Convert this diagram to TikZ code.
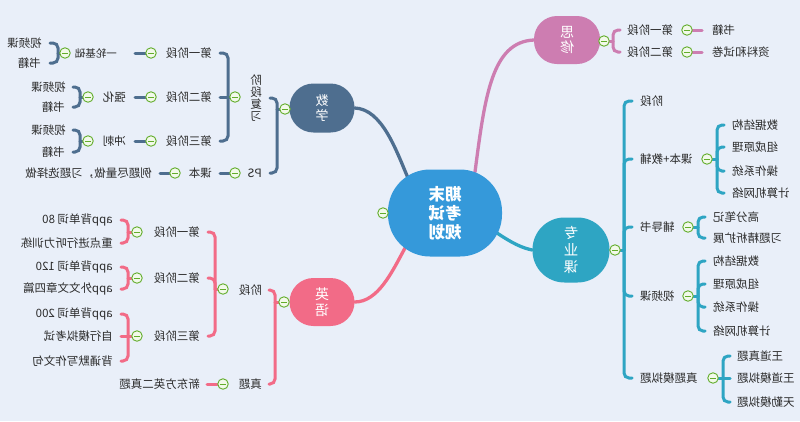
\documentclass[tikz,border=0pt]{standalone}
\usepackage{fontspec}
\usepackage{graphicx}
\setmainfont{Noto Sans CJK SC}
\usetikzlibrary{calc}
\definecolor{bgc}{HTML}{E9EFF9}
\definecolor{cmath}{HTML}{4E6E8F}
\definecolor{csx}{HTML}{CD7DB1}
\definecolor{czy}{HTML}{2EA5C3}
\definecolor{cen}{HTML}{F26B87}
\definecolor{croot}{HTML}{3599DA}
\definecolor{icg}{HTML}{62AD2B}
\definecolor{icf}{HTML}{F2F9EA}
\definecolor{txc}{HTML}{2B2B2B}
\pgfdeclarelayer{bg}
\pgfdeclarelayer{lines}
\pgfsetlayers{bg,lines,main}
\newcommand\mir[1]{\reflectbox{#1}}
\begin{document}
\begin{tikzpicture}[x=1pt,y=-1pt,
  lt/.style={anchor=east, inner sep=0pt, text=txc, font=\fontsize{11.5}{12.5}\selectfont},
  rt/.style={anchor=west, inner sep=0pt, text=txc, font=\fontsize{11.5}{12.5}\selectfont},
  topic/.style={rectangle, rounded corners=#1, text=white, align=center, inner sep=0pt, font=\fontsize{13}{14.5}\selectfont},
  icon/.style={circle, draw=icg, fill=icf, line width=0.9pt, minimum size=10.5pt, inner sep=0pt,
    path picture={\draw[icg, line width=0.9pt] ([xshift=-2.8pt]path picture bounding box.center) -- ([xshift=2.8pt]path picture bounding box.center);}},
  br/.style={line width=3pt, rounded corners=5pt, line cap=round},
  bline/.style={line width=3.3pt, line cap=round}]
\useasboundingbox (0,0) rectangle (800,421);
\begin{pgfonlayer}{bg}
\fill[bgc] (0,0) rectangle (800,421);
\end{pgfonlayer}

% ---------- root ----------
\node[topic=42pt, fill=croot, minimum width=114pt, minimum height=87pt, font=\fontsize{16.5}{19}\selectfont\bfseries] (root) at (445,213) {\mir{期末}\\\mir{考试}\\\mir{规划}};
\node[icon] (ir) at (383,213) {};

% ---------- 数学 ----------
\node[topic=24pt, fill=cmath, minimum width=65pt, minimum height=49pt] (math) at (322,108) {\mir{数}\\\mir{学}};
\node[icon] (im) at (285,109) {};
\coordinate (sm) at (277,109);
\node[lt, align=center, font=\fontsize{11.5}{12}\selectfont] (mfx) at (262,98) {\mir{阶}\\\mir{段}\\\mir{复}\\\mir{习}};
\node[lt] (mps) at (262,173) {\mir{PS}};
\node[icon] (im1) at (235,97) {};
\coordinate (sm1) at (228,97);
\node[lt] (m1) at (212,53) {\mir{第一阶段}};
\node[lt] (m2) at (212,97) {\mir{第二阶段}};
\node[lt] (m3) at (212,141) {\mir{第三阶段}};
\node[icon] (im11) at (151,53) {};
\node[lt, font=\fontsize{10.5}{12}\selectfont] (m11) at (117,53) {\mir{一轮基础}};
\node[icon] (im111) at (65,53) {};
\coordinate (sm111) at (58,53);
\node[lt] (m111) at (42,43) {\mir{视频课}};
\node[lt] (m112) at (41,63) {\mir{书籍}};
\node[icon] (im21) at (151,97) {};
\node[lt] (m21) at (126,97) {\mir{强化}};
\node[icon] (im211) at (88,97) {};
\coordinate (sm211) at (80,97);
\node[lt] (m211) at (66,87) {\mir{视频课}};
\node[lt] (m212) at (65,107) {\mir{书籍}};
\node[icon] (im31) at (151,141) {};
\node[lt] (m31) at (126,141) {\mir{冲刺}};
\node[icon] (im311) at (88,141) {};
\coordinate (sm311) at (80,141);
\node[lt] (m311) at (66,130) {\mir{视频课}};
\node[lt] (m312) at (65,152) {\mir{书籍}};
\node[icon] (imps) at (235,173) {};
\node[lt] (mps1) at (212,173) {\mir{课本}};
\node[icon] (imps1) at (175,173) {};
\node[lt] (mps11) at (152,173) {\mir{例题尽量做，习题选择做}};

% ---------- 英语 ----------
\node[topic=24pt, fill=cen, minimum width=65pt, minimum height=48pt, font=\fontsize{14}{16}\selectfont] (eng) at (322,302) {\mir{英}\\\mir{语}};
\node[icon] (ie) at (284,302) {};
\coordinate (se) at (275,302);
\node[lt] (e1) at (262,290) {\mir{阶段}};
\node[lt] (e2) at (262,384) {\mir{真题}};
\node[icon] (ie1) at (223,289) {};
\coordinate (se1) at (215,289);
\node[lt] (e11) at (200,232) {\mir{第一阶段}};
\node[lt] (e12) at (200,278) {\mir{第二阶段}};
\node[lt] (e13) at (200,336) {\mir{第三阶段}};
\node[icon] (ie11) at (137,232) {};
\coordinate (se11) at (128,232);
\node[lt] (e111) at (113,220) {\mir{app背单词 80}};
\node[lt] (e112) at (113,243) {\mir{重点进行听力训练}};
\node[icon] (ie12) at (137,278) {};
\coordinate (se12) at (128,278);
\node[lt] (e121) at (113,267) {\mir{app背单词 120}};
\node[lt] (e122) at (113,289) {\mir{app外文文章四篇}};
\node[icon] (ie13) at (137,336) {};
\coordinate (se13) at (128,336);
\node[lt] (e131) at (113,314) {\mir{app背单词 200}};
\node[lt] (e132) at (113,336) {\mir{自行模拟考试}};
\node[lt] (e133) at (113,361) {\mir{背诵默写作文句}};
\node[icon] (ie2) at (223,384) {};
\node[lt] (e21) at (200,384) {\mir{新东方英二真题}};

% ---------- 思修 ----------
\node[topic=23pt, fill=csx, minimum width=66pt, minimum height=48pt, font=\fontsize{14}{15.5}\selectfont] (sx) at (567,40) {\mir{思}\\\mir{修}};
\node[icon] (is) at (604,41) {};
\coordinate (ss) at (613,41);
\node[rt] (s1) at (627,30) {\mir{第一阶段}};
\node[rt] (s2) at (627,52) {\mir{第二阶段}};
\node[icon] (is1) at (687,30) {};
\node[rt] (s11) at (712,30) {\mir{书籍}};
\node[icon] (is2) at (687,52) {};
\node[rt] (s21) at (712,52) {\mir{资料和试卷}};

% ---------- 专业课 ----------
\node[topic=32pt, fill=czy, minimum width=77pt, minimum height=65pt, font=\fontsize{14.5}{17}\selectfont] (zy) at (571,250) {\mir{专}\\\mir{业}\\\mir{课}};
\node[icon] (iz) at (615,250) {};
\coordinate (sz) at (624,250);
\node[rt] (z1) at (640,101) {\mir{阶段}};
\node[rt] (z2) at (640,159) {\mir{课本+教辅}};
\node[rt] (z3) at (640,227) {\mir{辅导书}};
\node[rt] (z4) at (640,296) {\mir{视频课}};
\node[rt] (z5) at (640,378) {\mir{真题模拟题}};
\node[icon] (iz2) at (707,159) {};
\coordinate (sz2) at (717,159);
\node[rt] (z21) at (732,125) {\mir{数据结构}};
\node[rt] (z22) at (732,147) {\mir{组成原理}};
\node[rt] (z23) at (732,171) {\mir{操作系统}};
\node[rt] (z24) at (732,193) {\mir{计算机网络}};
\node[icon] (iz3) at (688,227) {};
\coordinate (sz3) at (698,227);
\node[rt] (z31) at (713,217) {\mir{高分笔记}};
\node[rt] (z32) at (713,238) {\mir{习题精析扩展}};
\node[icon] (iz4) at (688,296) {};
\coordinate (sz4) at (698,296);
\node[rt] (z41) at (713,261) {\mir{数据结构}};
\node[rt] (z42) at (713,284) {\mir{组成原理}};
\node[rt] (z43) at (713,307) {\mir{操作系统}};
\node[rt] (z44) at (713,331) {\mir{计算机网络}};
\node[icon] (iz5) at (713,378) {};
\coordinate (sz5) at (723,378);
\node[rt] (z51) at (737,356) {\mir{王道真题}};
\node[rt] (z52) at (737,378) {\mir{王道模拟题}};
\node[rt] (z53) at (737,402) {\mir{天勤模拟题}};

\begin{pgfonlayer}{lines}
% main branches
\draw[bline, cmath] (math.east) .. controls (382,109) and (396,150) .. ($(root.center)+(-37,-35)$);
\draw[bline, csx] ($(root.center)+(30,-41)$) .. controls (485,95) and (492,42) .. (sx.west);
\draw[bline, czy] ($(root.center)+(52,20)$) .. controls (512,243) and (522,248) .. (zy.west);
\draw[bline, cen] ($(root.center)+(-40,35)$) .. controls (392,272) and (378,302) .. (eng.east);

% 数学
\draw[br, cmath] (im) -- (sm);
\draw[br, cmath] ([xshift=8pt]mfx.east) -| (sm) |- ([xshift=8pt]mps.east);
\draw[br, cmath] (im1) -- ([xshift=8pt]m2.east);
\draw[br, cmath] ([xshift=8pt]m1.east) -| (sm1) |- ([xshift=8pt]m3.east);
\draw[br, cmath] (im11) -- ([xshift=18pt]m11.east);
\draw[br, cmath] (im111) -- (sm111);
\draw[br, cmath] ([xshift=8pt]m111.east) -| (sm111) |- ([xshift=9pt]m112.east);
\draw[br, cmath] (im21) -- ([xshift=9pt]m21.east);
\draw[br, cmath] (im211) -- (sm211);
\draw[br, cmath] ([xshift=7pt]m211.east) -| (sm211) |- ([xshift=8pt]m212.east);
\draw[br, cmath] (im31) -- ([xshift=9pt]m31.east);
\draw[br, cmath] (im311) -- (sm311);
\draw[br, cmath] ([xshift=7pt]m311.east) -| (sm311) |- ([xshift=8pt]m312.east);
\draw[br, cmath] (imps) -- ([xshift=8pt]mps1.east);
\draw[br, cmath] (imps1) -- ([xshift=8pt]mps11.east);

% 英语
\draw[br, cen] (ie) -- (se);
\draw[br, cen] ([xshift=7pt]e1.east) -| (se) |- ([xshift=7pt]e2.east);
\draw[br, cen] (ie1) -- (se1);
\draw[br, cen] ([xshift=8pt]e11.east) -| (se1) |- ([xshift=8pt]e13.east);
\draw[br, cen] (se1) |- ([xshift=8pt]e12.east);
\draw[br, cen] (ie11) -- (se11);
\draw[br, cen] ([xshift=8pt]e111.east) -| (se11) |- ([xshift=8pt]e112.east);
\draw[br, cen] (ie12) -- (se12);
\draw[br, cen] ([xshift=8pt]e121.east) -| (se12) |- ([xshift=8pt]e122.east);
\draw[br, cen] (ie13) -- ([xshift=8pt]e132.east);
\draw[br, cen] ([xshift=8pt]e131.east) -| (se13) |- ([xshift=8pt]e133.east);
\draw[br, cen] (ie2) -- ([xshift=7pt]e21.east);

% 思修
\draw[br, csx] (is) -- (ss);
\draw[br, csx] ([xshift=-7pt]s1.west) -| (ss) |- ([xshift=-7pt]s2.west);
\draw[br, csx] (is1) -- ([xshift=-10pt]s11.west);
\draw[br, csx] (is2) -- ([xshift=-10pt]s21.west);

% 专业课
\draw[br, czy] (iz) -- (sz);
\draw[br, czy] ([xshift=-8pt]z1.west) -| (sz) |- ([xshift=-8pt]z5.west);
\draw[br, czy] (sz) |- ([xshift=-8pt]z2.west);
\draw[br, czy] (sz) |- ([xshift=-8pt]z3.west);
\draw[br, czy] (sz) |- ([xshift=-8pt]z4.west);
\draw[br, czy] (iz2) -- (sz2);
\draw[br, czy] ([xshift=-8pt]z21.west) -| (sz2) |- ([xshift=-8pt]z24.west);
\draw[br, czy] (sz2) |- ([xshift=-8pt]z22.west);
\draw[br, czy] (sz2) |- ([xshift=-8pt]z23.west);
\draw[br, czy] (iz3) -- (sz3);
\draw[br, czy] ([xshift=-8pt]z31.west) -| (sz3) |- ([xshift=-8pt]z32.west);
\draw[br, czy] (iz4) -- (sz4);
\draw[br, czy] ([xshift=-8pt]z41.west) -| (sz4) |- ([xshift=-8pt]z44.west);
\draw[br, czy] (sz4) |- ([xshift=-8pt]z42.west);
\draw[br, czy] (sz4) |- ([xshift=-8pt]z43.west);
\draw[br, czy] (iz5) -- ([xshift=-7pt]z52.west);
\draw[br, czy] ([xshift=-7pt]z51.west) -| (sz5) |- ([xshift=-7pt]z53.west);
\end{pgfonlayer}
\end{tikzpicture}
\end{document}
